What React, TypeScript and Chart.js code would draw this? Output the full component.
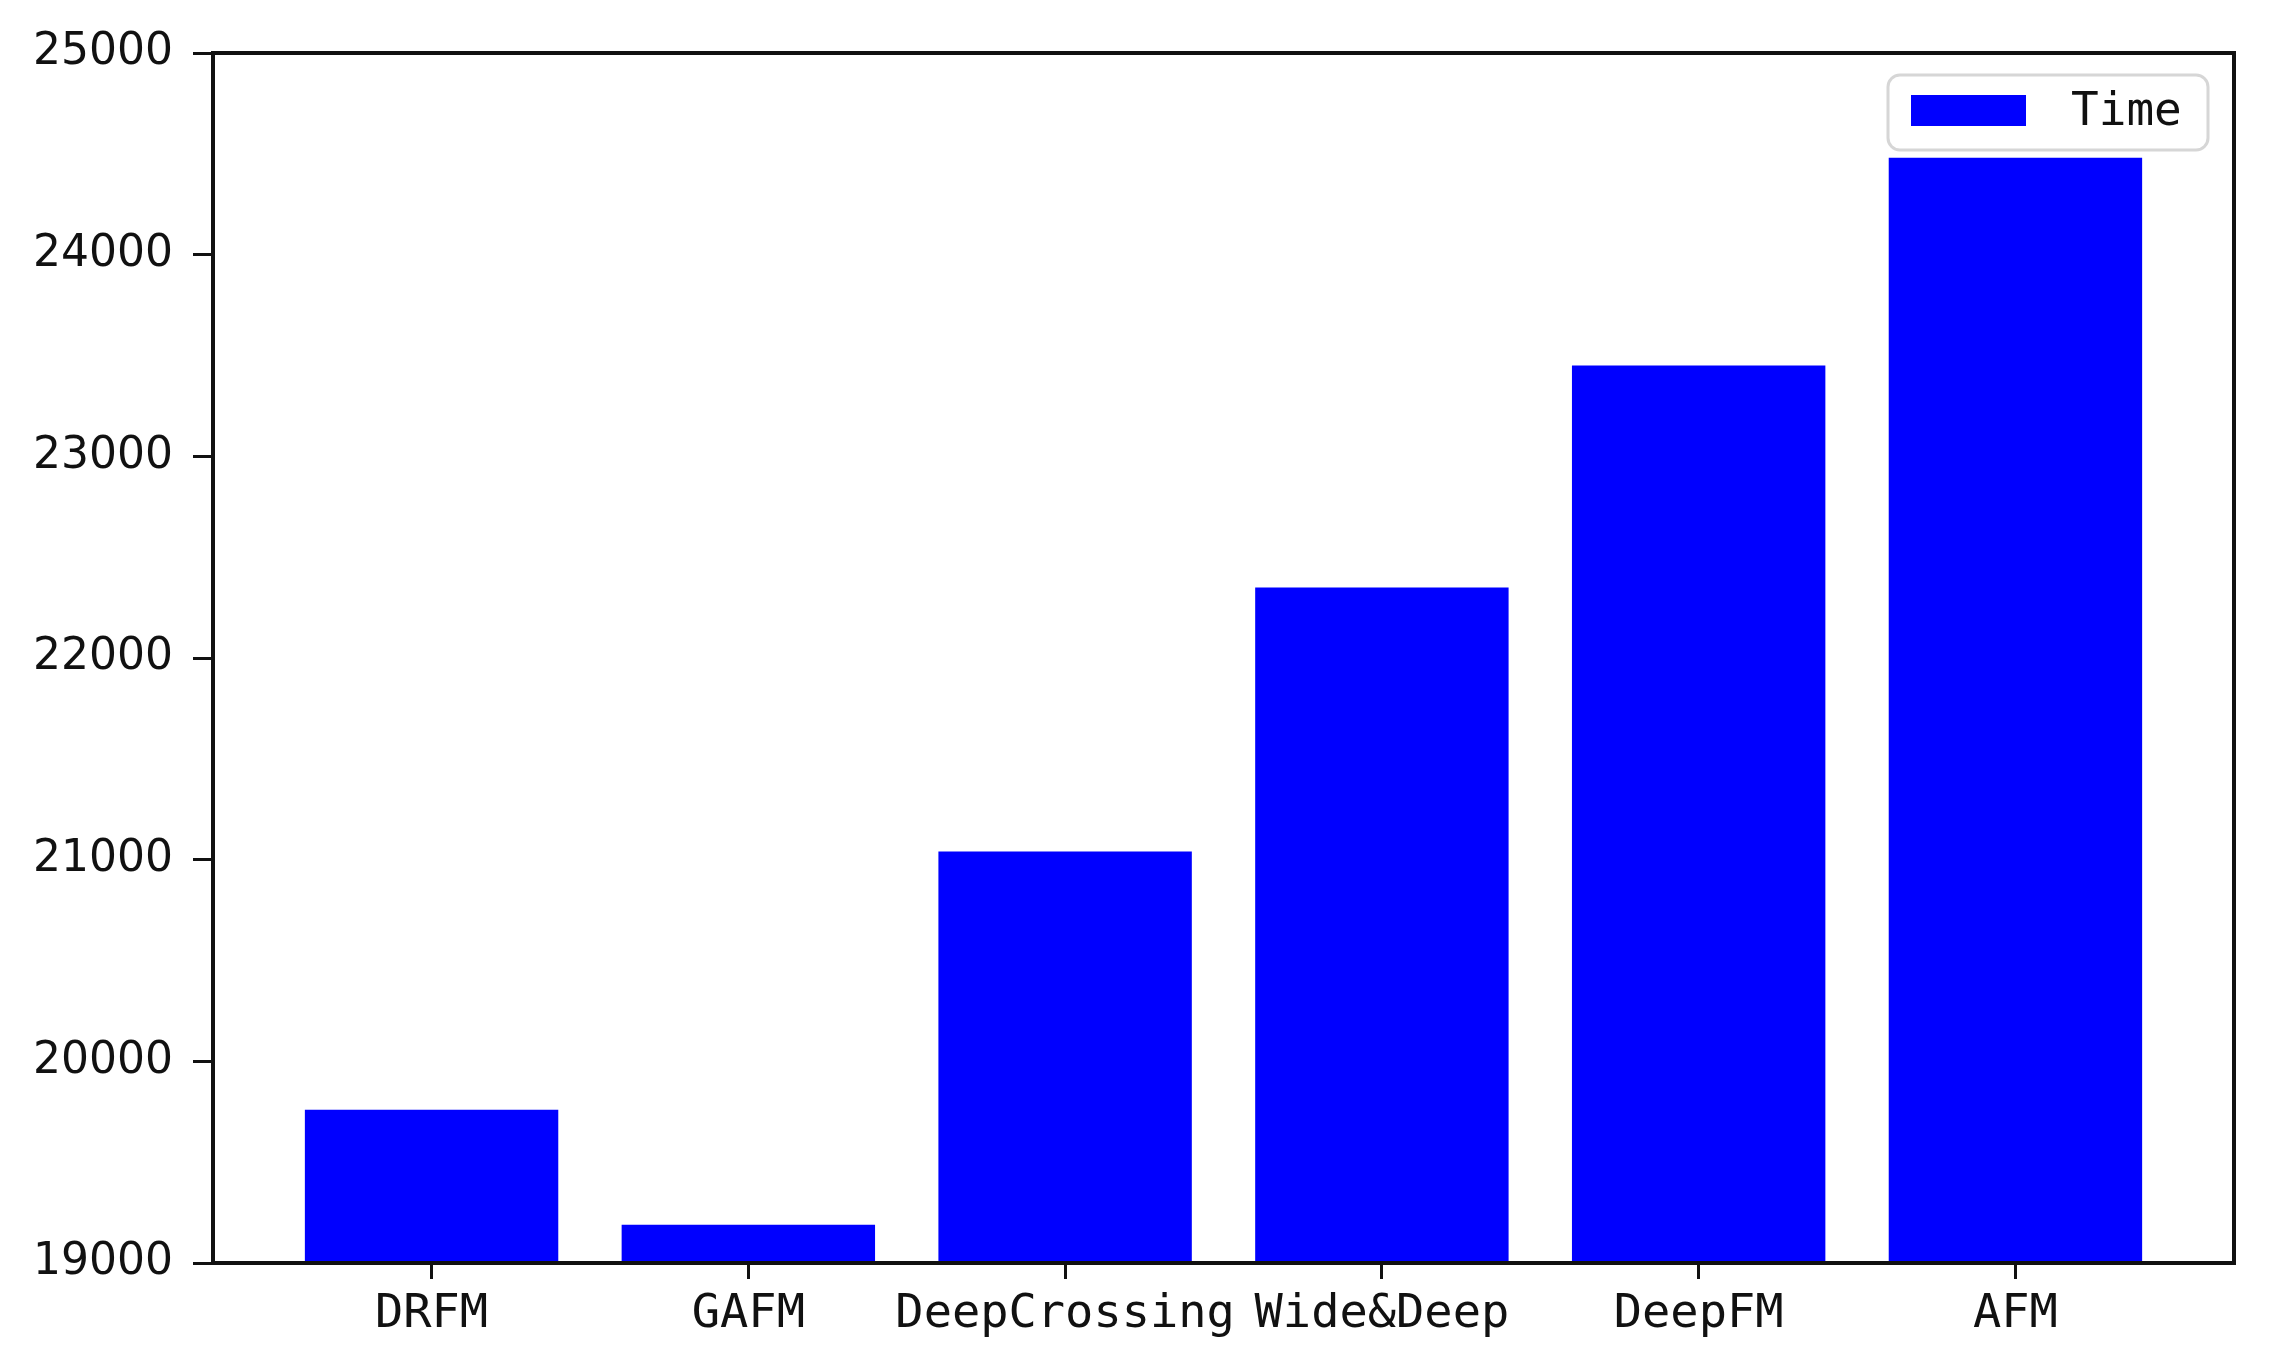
import { useEffect, useRef } from "react"
import { Chart, registerables } from "chart.js"

Chart.register(...registerables)

const models = ["DRFM", "GAFM", "DeepCrossing", "Wide&Deep", "DeepFM", "AFM"]
const timeValues = [19760, 19190, 21040, 22350, 23450, 24480]
const yTicks = [19000, 20000, 21000, 22000, 23000, 24000, 25000]

// box around the plot, drawn over the bars like matplotlib's spines
const frame = {
  id: "frame",
  afterDatasetsDraw(chart: Chart) {
    const { ctx, chartArea } = chart
    ctx.save()
    ctx.strokeStyle = "#111"
    ctx.lineWidth = 4
    ctx.strokeRect(chartArea.left, chartArea.top, chartArea.right - chartArea.left, chartArea.bottom - chartArea.top)
    ctx.restore()
  },
}

// legend sitting in the upper right corner of the plot
const cornerLegend = {
  id: "cornerLegend",
  afterDatasetsDraw(chart: Chart) {
    const { ctx, chartArea } = chart
    const ds: any = chart.data.datasets[0]
    const w = 320
    const h = 75
    const x = chartArea.right - 26 - w
    const y = chartArea.top + 22
    ctx.save()
    ctx.beginPath()
    ctx.roundRect(x, y, w, h, 12)
    ctx.fillStyle = "rgba(255,255,255,0.85)"
    ctx.fill()
    ctx.lineWidth = 3
    ctx.strokeStyle = "#d6d6d6"
    ctx.stroke()
    ctx.fillStyle = ds.backgroundColor
    ctx.fillRect(x + 23, y + 20, 115, 31)
    ctx.fillStyle = "#111"
    ctx.font = '46px "DejaVu Sans Mono"'
    ctx.textBaseline = "middle"
    ctx.fillText(ds.label, x + 183, y + 38)
    ctx.restore()
  },
}

export default function App() {
  const canvasRef = useRef<HTMLCanvasElement>(null)
  const chartRef = useRef<Chart | null>(null)

  useEffect(() => {
    if (!canvasRef.current) return
    if (chartRef.current) chartRef.current.destroy()

    chartRef.current = new Chart(canvasRef.current, {
      type: "bar",
      data: {
        datasets: [
          {
            label: "Time",
            data: timeValues.map((v, i) => ({ x: i, y: v })),
            backgroundColor: "#0000ff",
            borderWidth: 0,
            barPercentage: 0.8,
            categoryPercentage: 1,
          },
        ],
      },
      options: {
        animation: false,
        responsive: true,
        maintainAspectRatio: false,
        layout: { padding: { top: 53, right: 36, bottom: 0, left: 0 } },
        plugins: {
          legend: { display: false },
          tooltip: { enabled: false },
        },
        scales: {
          x: {
            type: "linear",
            min: -0.69,
            max: 5.69,
            offset: false,
            afterBuildTicks: (scale: any) => {
              scale.ticks = models.map((_, i) => ({ value: i }))
            },
            afterFit: (scale: any) => {
              scale.height = 90
            },
            border: { display: false },
            grid: {
              offset: false,
              drawOnChartArea: false,
              drawTicks: true,
              tickLength: 16,
              tickWidth: 3,
              tickColor: "#111",
            },
            ticks: {
              autoSkip: false,
              maxRotation: 0,
              padding: 8,
              color: "#111",
              font: { family: "DejaVu Sans Mono", size: 47 },
              callback: (v) => models[Number(v)] ?? "",
            },
          },
          y: {
            min: 19000,
            max: 25000,
            afterBuildTicks: (scale: any) => {
              scale.ticks = yTicks.map((v) => ({ value: v }))
            },
            afterFit: (scale: any) => {
              scale.width = 213
            },
            border: { display: false },
            grid: {
              drawOnChartArea: false,
              drawTicks: true,
              tickLength: 20,
              tickWidth: 3,
              tickColor: "#111",
            },
            ticks: {
              padding: 20,
              color: "#111",
              font: { family: "DejaVu Sans", size: 44 },
              callback: (v) => String(v),
            },
          },
        },
      },
      plugins: [frame, cornerLegend],
    })

    return () => {
      if (chartRef.current) chartRef.current.destroy()
      chartRef.current = null
    }
  }, [])

  return (
    <div style={{ position: "fixed", left: 0, top: 0, width: 2270, height: 1353, background: "#fff" }}>
      <canvas ref={canvasRef}></canvas>
    </div>
  )
}
